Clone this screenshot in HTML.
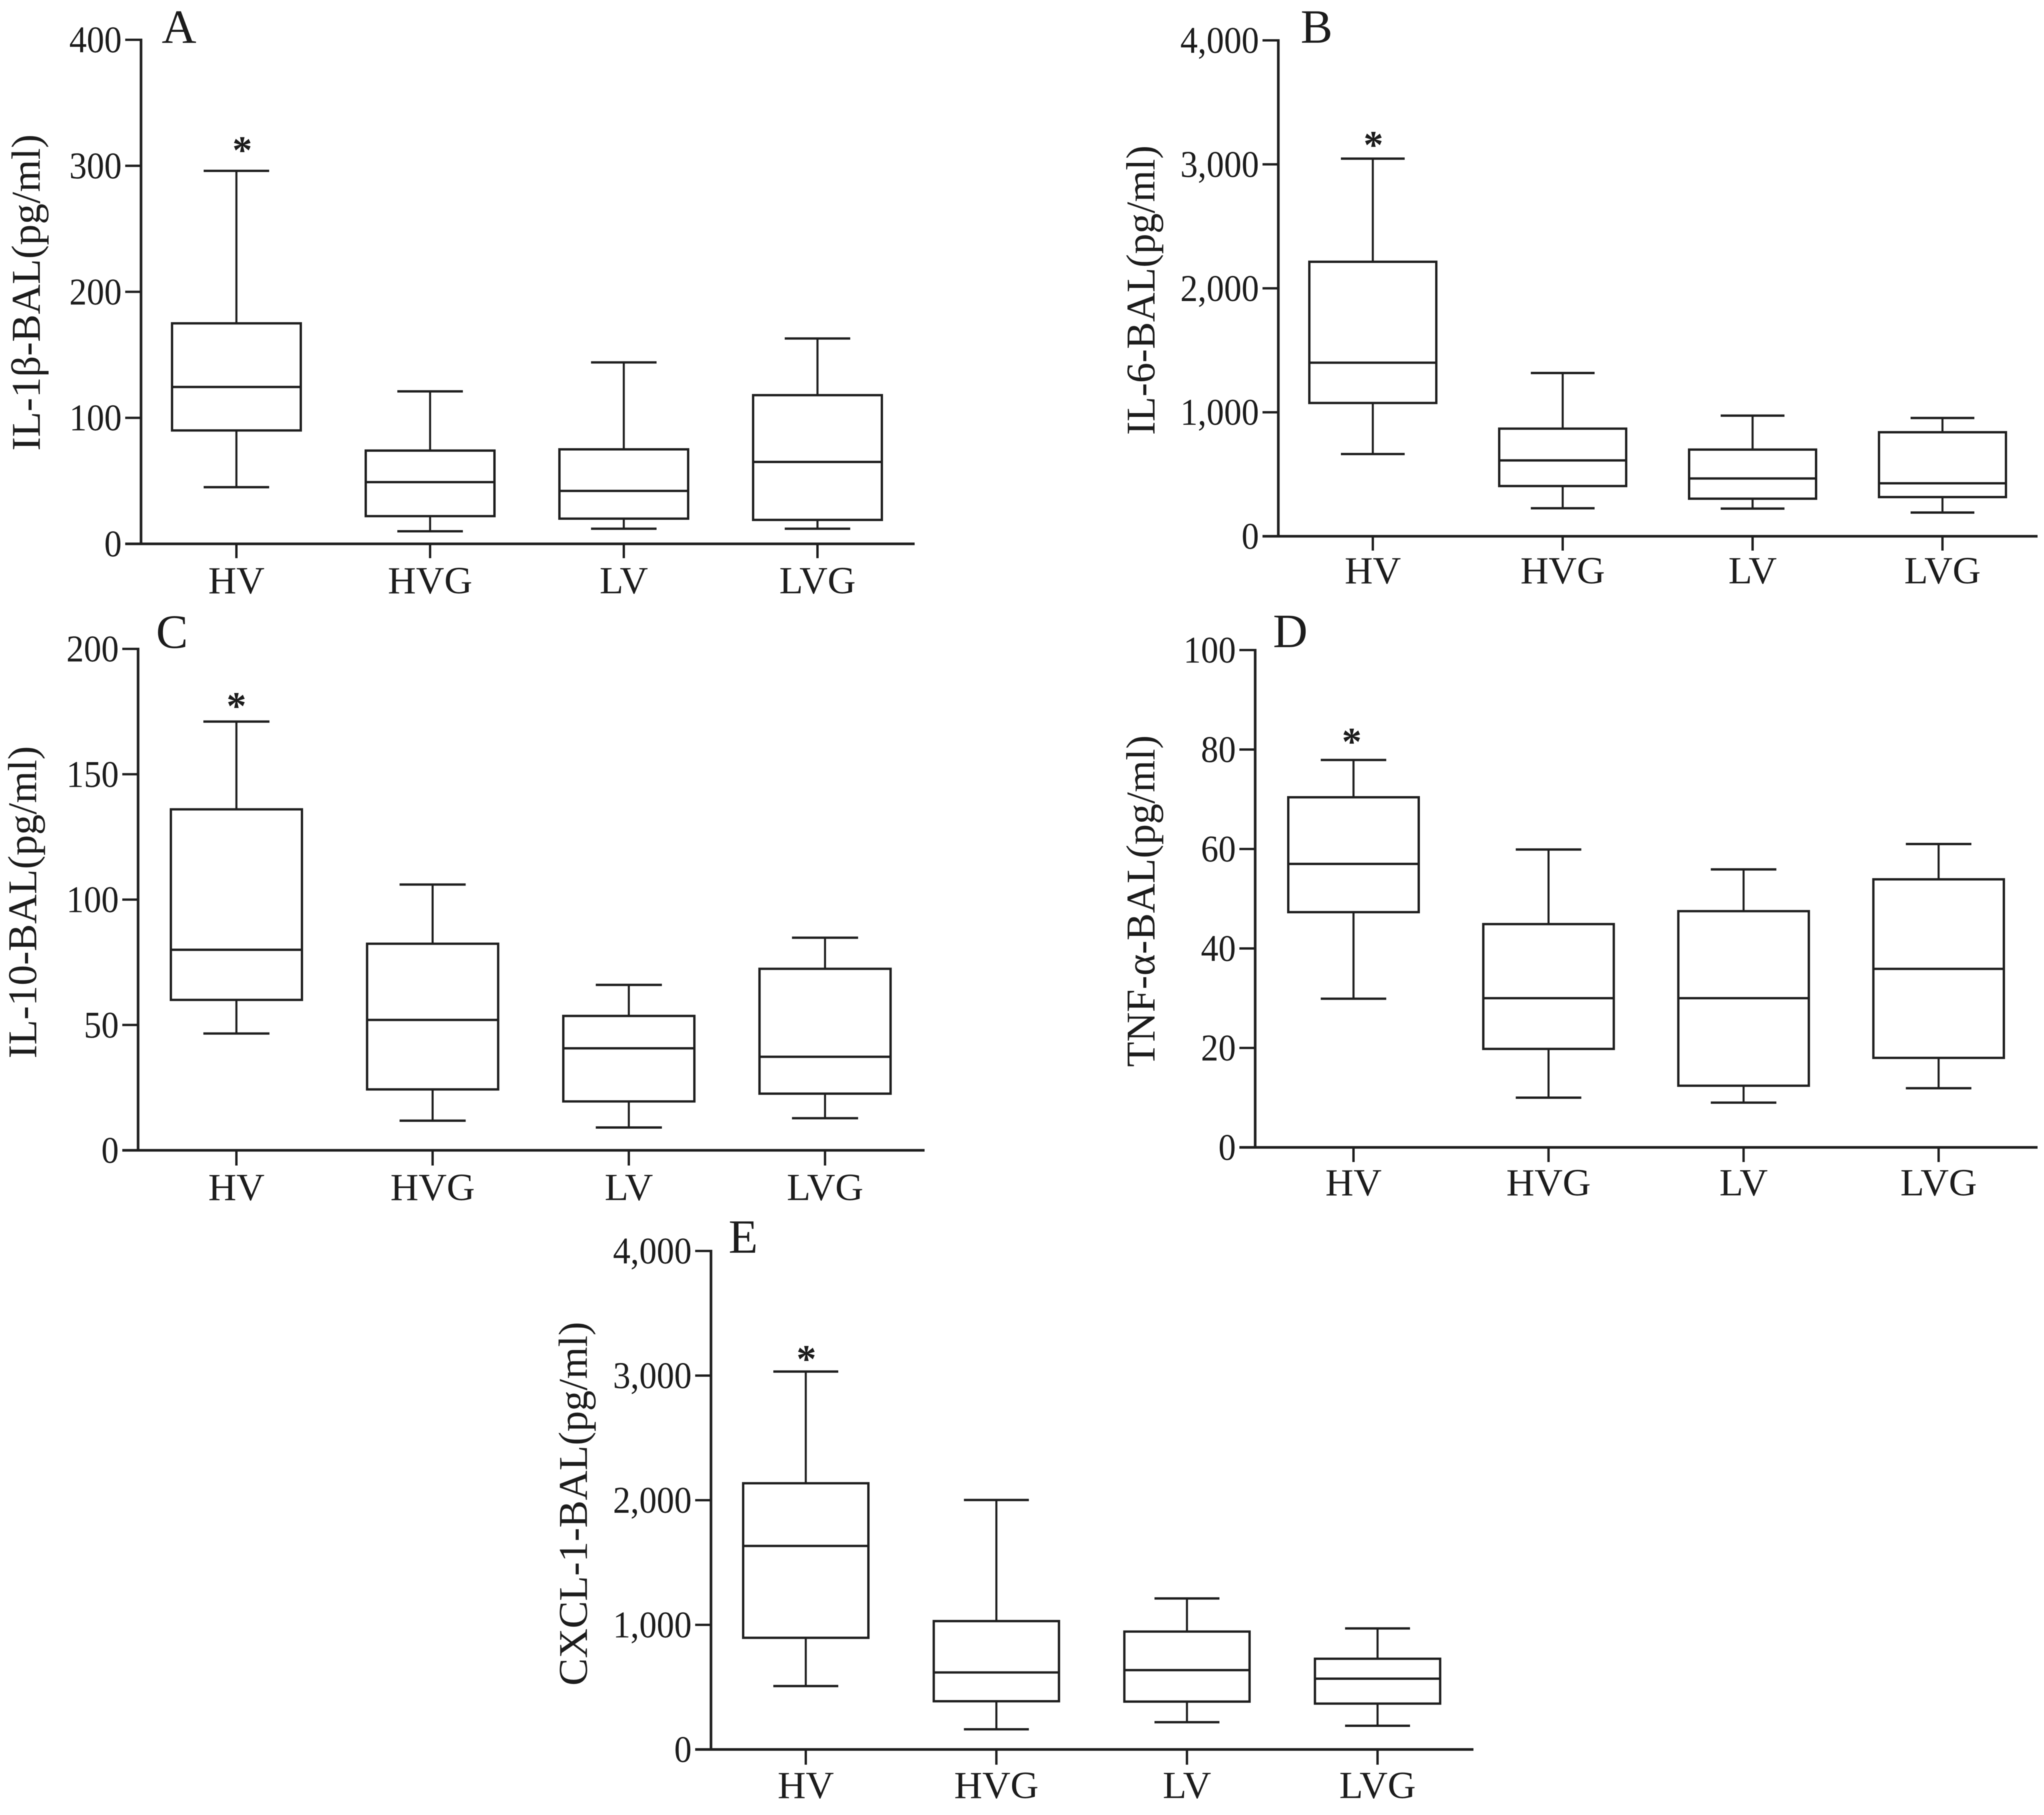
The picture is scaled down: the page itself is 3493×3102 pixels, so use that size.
<!DOCTYPE html>
<html lang="en">
<head>
<meta charset="utf-8">
<title>BAL cytokine box plots</title>
<style>
  html, body { margin: 0; padding: 0; background: #fff; }
  svg { display: block; filter: blur(0.7px); }
  text { font-family: "Liberation Serif", "DejaVu Serif", serif; fill: #1c1c1c; }
</style>
</head>
<body>
<svg id="figure" xmlns="http://www.w3.org/2000/svg" width="3493" height="3102" viewBox="0 0 3493 3102"></svg>
<script>
const categories = ["HV", "HVG", "LV", "LVG"];

const aTicks = [0, 100, 200, 300, 400];
const aTickLabels = ["0", "100", "200", "300", "400"];
const aHigh = [296, 121, 144, 163];
const aQ3 = [175, 74, 75, 118];
const aMedian = [124.5, 49, 42, 65];
const aQ1 = [90, 22, 20, 19];
const aLow = [45, 10, 12, 12];

const bTicks = [0, 1000, 2000, 3000, 4000];
const bTickLabels = ["0", "1,000", "2,000", "3,000", "4,000"];
const bHigh = [3046, 1317, 973, 954];
const bQ3 = [2214, 868, 699, 839];
const bMedian = [1400, 612, 466, 427];
const bQ1 = [1075, 405, 303, 316];
const bLow = [663, 226, 223, 191];

const cTicks = [0, 50, 100, 150, 200];
const cTickLabels = ["0", "50", "100", "150", "200"];
const cHigh = [171, 106, 66, 84.8];
const cQ3 = [136, 82.4, 53.6, 72.4];
const cMedian = [80, 52, 40.7, 37.3];
const cQ1 = [60, 24.3, 19.5, 22.6];
const cLow = [46.6, 11.8, 9.1, 12.8];

const dTicks = [0, 20, 40, 60, 80, 100];
const dTickLabels = ["0", "20", "40", "60", "80", "100"];
const dHigh = [77.9, 59.9, 55.9, 61];
const dQ3 = [70.4, 44.9, 47.5, 53.9];
const dMedian = [57, 30, 30, 35.9];
const dQ1 = [47.3, 19.8, 12.4, 18];
const dLow = [29.9, 10, 9, 11.9];

const eTicks = [0, 1000, 2000, 3000, 4000];
const eTickLabels = ["0", "1,000", "2,000", "3,000", "4,000"];
const eHigh = [3032, 2002, 1212, 971];
const eQ3 = [2136, 1030, 946, 728];
const eMedian = [1633, 618, 637, 568];
const eQ1 = [896, 387, 384, 368];
const eLow = [509, 162, 219, 190];

const panels = [
  { id: "a", letter: "A", title: "IL-1β-BAL(pg/ml)", max: 400, ticks: aTicks, tickLabels: aTickLabels,
    high: aHigh, q3: aQ3, median: aMedian, q1: aQ1, low: aLow,
    axisX: 241, top: 68, zero: 929.5, right: 1563, cat0: 404, catStep: 331, boxHalf: 110, capHalf: 56,
    tickEnd: 954, labelY: 1014, titleX: 68, titleC: 500, titleLen: 541,
    letterX: 306, letterY: 73, starX: 414, starY: 248 },
  { id: "b", letter: "B", title: "IL-6-BAL(pg/ml)", max: 4000, ticks: bTicks, tickLabels: bTickLabels,
    high: bHigh, q3: bQ3, median: bMedian, q1: bQ1, low: bLow,
    axisX: 2184.5, top: 69, zero: 916.5, right: 3482, cat0: 2346, catStep: 324.5, boxHalf: 108.5, capHalf: 54.5,
    tickEnd: 941, labelY: 997, titleX: 1973, titleC: 496, titleLen: 495,
    letterX: 2250, letterY: 73, starX: 2347, starY: 239 },
  { id: "c", letter: "C", title: "IL-10-BAL(pg/ml)", max: 200, ticks: cTicks, tickLabels: cTickLabels,
    high: cHigh, q3: cQ3, median: cMedian, q1: cQ1, low: cLow,
    axisX: 236, top: 1109, zero: 1966, right: 1580, cat0: 404, catStep: 335.3, boxHalf: 112, capHalf: 56.5,
    tickEnd: 1992, labelY: 2051, titleX: 62, titleC: 1542, titleLen: 534,
    letterX: 294, letterY: 1107, starX: 404, starY: 1198 },
  { id: "d", letter: "D", title: "TNF-α-BAL(pg/ml)", max: 100, ticks: dTicks, tickLabels: dTickLabels,
    high: dHigh, q3: dQ3, median: dMedian, q1: dQ1, low: dLow,
    axisX: 2145, top: 1111, zero: 1961, right: 3482, cat0: 2313, catStep: 333.3, boxHalf: 111.5, capHalf: 56,
    tickEnd: 1986, labelY: 2043, titleX: 1973, titleC: 1540, titleLen: 567,
    letterX: 2205, letterY: 1106, starX: 2310, starY: 1259 },
  { id: "e", letter: "E", title: "CXCL-1-BAL(pg/ml)", max: 4000, ticks: eTicks, tickLabels: eTickLabels,
    high: eHigh, q3: eQ3, median: eMedian, q1: eQ1, low: eLow,
    axisX: 1215, top: 2138, zero: 2990, right: 2518, cat0: 1377, catStep: 325.7, boxHalf: 107, capHalf: 55.5,
    tickEnd: 3016, labelY: 3073, titleX: 1003, titleC: 2570, titleLen: 622,
    letterX: 1270, letterY: 2141, starX: 1378, starY: 2314 }
];

const SVG_NS = "http://www.w3.org/2000/svg";
const figure = document.getElementById("figure");
const INK = "#1f1f1f";

function make(parent, tag, attrs, text) {
  const node = document.createElementNS(SVG_NS, tag);
  for (const key in attrs) node.setAttribute(key, attrs[key]);
  if (text !== undefined) node.textContent = text;
  parent.appendChild(node);
  return node;
}

function rule(parent, x1, y1, x2, y2, width) {
  return make(parent, "line", { x1: x1, y1: y1, x2: x2, y2: y2, stroke: INK, "stroke-width": width });
}

panels.forEach(function (p) {
  const yScale = function (v) { return p.zero - (v / p.max) * (p.zero - p.top); };
  const xScale = function (i) { return p.cat0 + i * p.catStep; };

  const group = make(figure, "g", {});
  
  

  const yAxis = rule(group, p.axisX, p.top - 2, p.axisX, p.zero + 2, 4.5);
  
  

  const xAxis = rule(group, p.axisX - 27, p.zero, p.right, p.zero, 4.5);
  
  

  p.ticks.forEach(function (t, i) {
    const y = yScale(t);
    const tick = rule(group, p.axisX - 27, y, p.axisX, y, 4);
    
    

    const tx = p.axisX - 33;
    const label = make(group, "text", {
      transform: "translate(" + tx + "," + (y + 21.5) + ") scale(0.92,1)",
      "font-size": 65, "text-anchor": "end"
    }, p.tickLabels[i]);
    
    
  });

  categories.forEach(function (cat, i) {
    const x = xScale(i);
    const tick = rule(group, x, p.zero, x, p.tickEnd, 4);
    
    

    const label = make(group, "text", {
      transform: "translate(" + x + "," + p.labelY + ") scale(1.01,1)",
      "font-size": 66, "text-anchor": "middle"
    }, cat);
    
    

    const box = make(group, "g", {});
    
    

    rule(box, x, yScale(p.high[i]), x, yScale(p.q3[i]), 3.5);
    rule(box, x, yScale(p.q1[i]), x, yScale(p.low[i]), 3.5);
    rule(box, x - p.capHalf, yScale(p.high[i]), x + p.capHalf, yScale(p.high[i]), 4);
    rule(box, x - p.capHalf, yScale(p.low[i]), x + p.capHalf, yScale(p.low[i]), 4);
    make(box, "rect", {
      x: x - p.boxHalf, y: yScale(p.q3[i]),
      width: 2 * p.boxHalf, height: yScale(p.q1[i]) - yScale(p.q3[i]),
      fill: "#fff", stroke: INK, "stroke-width": 4
    });
    rule(box, x - p.boxHalf, yScale(p.median[i]), x + p.boxHalf, yScale(p.median[i]), 4);
  });

  const title = make(group, "text", {
    x: 0, y: 0,
    transform: "translate(" + p.titleX + "," + p.titleC + ") rotate(-90)",
    "font-size": 70, "text-anchor": "middle",
    textLength: p.titleLen, lengthAdjust: "spacingAndGlyphs"
  }, p.title);
  
  

  const letter = make(group, "text", {
    x: p.letterX, y: p.letterY, "font-size": 82, "text-anchor": "middle"
  }, p.letter);
  
  

  const star = make(group, "text", {
    x: p.starX, y: p.starY + 31, "font-size": 68, "font-weight": "bold", "text-anchor": "middle"
  }, "*");
  
  
});
</script>
</body>
</html>
